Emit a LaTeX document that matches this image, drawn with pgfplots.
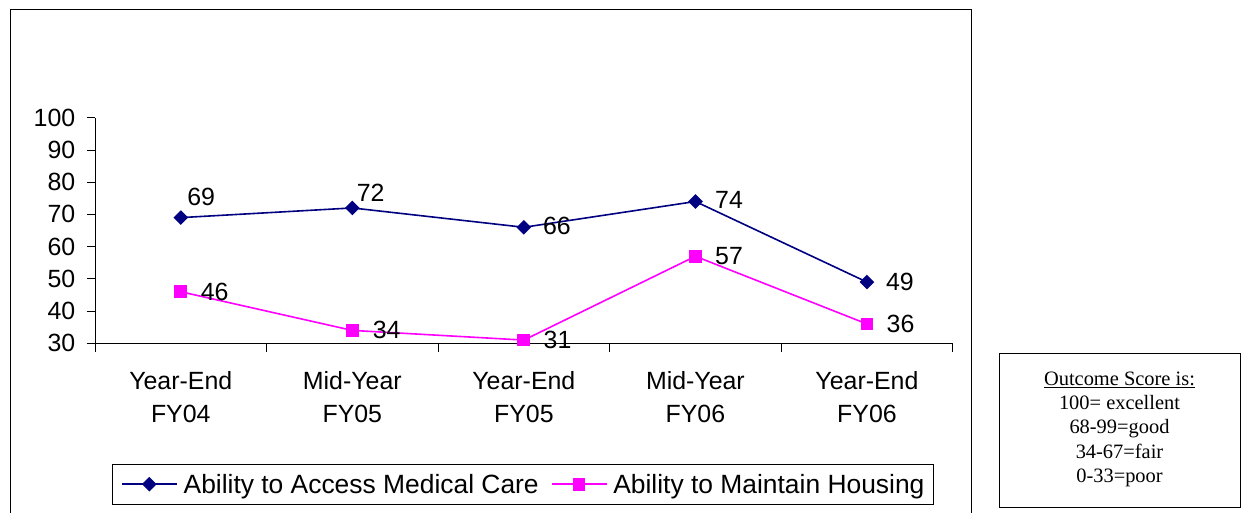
\documentclass[border=0pt]{standalone}
\usepackage{fontspec}
\setmainfont{Liberation Sans}
\newfontfamily\serifbox{Liberation Serif}
\usepackage{pgfplots}
\pgfplotsset{compat=1.18}
\definecolor{navyc}{HTML}{000080}
\definecolor{magc}{HTML}{FF00FF}

\begin{document}
\begin{tikzpicture}[x=1bp,y=1bp]
\useasboundingbox (0,0) rectangle (1245,-513);
\draw[line width=1bp] (10,-513) -- (10,-10) -- (971,-10) -- (971,-513);
\draw[line width=1bp] (999,-354) rectangle (1240,-507);
\begin{scope}[every node/.style={font=\serifbox\fontsize{20.5}{24}\selectfont, anchor=base, inner sep=0pt}]
\node at (1119.5,-385.5) {\underline{Outcome Score is:}};
\node at (1119.5,-409) {100= excellent};
\node at (1119.5,-433.3) {68-99=good};
\node at (1119.5,-458) {34-67=fair};
\node at (1119.5,-482.5) {0-33=poor};
\end{scope}
\begin{axis}[
 at={(95bp,-343.3bp)}, anchor=south west,
 scale only axis, width=857.7bp, height=225.6bp,
 xmin=0, xmax=5, ymin=30, ymax=100,
 clip=false,
 axis x line*=bottom, axis y line*=left,
 axis line style={-, line width=0.8bp, black},
 ytick={30,40,...,100},
 xtick={0.5,1.5,2.5,3.5,4.5},
 xticklabels={{Year-End\\FY04},{Mid-Year\\FY05},{Year-End\\FY05},{Mid-Year\\FY06},{Year-End\\FY06}},
 minor xtick={0,1,2,3,4,5},
 tick align=outside,
 major tick length=8.5bp, minor tick length=8.5bp,
 major x tick style={draw=none},
 tick style={line width=0.8bp, black},
 /pgf/number format/assume math mode=true,
 ticklabel style={font=\fontsize{25}{34}\selectfont, inner sep=0pt},
 xticklabel style={align=center, anchor=north, yshift=-19bp},
 yticklabel style={anchor=east, xshift=-11bp},
 legend columns=2,
 legend cell align=left,
 legend image code/.code={\draw[mark repeat=2,mark phase=2,#1] plot coordinates {(0bp,0bp) (27.5bp,0bp) (55bp,0bp)};},
 legend style={at={(0.4987,-0.6246)}, anchor=center, draw=black, line width=0.8bp,
   font=\fontsize{26.5}{30}\selectfont, inner xsep=9bp, inner ysep=10bp,
   nodes={inner sep=0pt, anchor=west},
   /tikz/every odd column/.append style={column sep=6bp},
   /tikz/every even column/.append style={column sep=12bp}},
 nodes near coords,
 visualization depends on={\thisrow{dx}\as\dx},
 visualization depends on={\thisrow{dy}\as\dy},
 nodes near coords style={text=black, anchor=west, inner sep=0pt, xshift=\dx bp, yshift=\dy bp, font=\fontsize{25}{30}\selectfont},
]
\addplot[navyc, line width=1.6bp, mark=square*, mark size=4.4bp, mark options={rotate=45, solid}] table {
x y dx dy
0.5 69 5.7 20.6
1.5 72 3.7 14.8
2.5 66 18.4 1.5
3.5 74 19 1.7
4.5 49 18.3 0
};
\addlegendentry{Ability to Access Medical Care}
\addplot[magc, line width=1.6bp, mark=square*, mark size=5.6bp, mark options={solid}] table {
x y dx dy
0.5 46 19.3 0
1.5 34 19.7 0
2.5 31 19 0
3.5 57 19 0
4.5 36 19 0
};
\addlegendentry{Ability to Maintain Housing}
\end{axis}
\end{tikzpicture}
\end{document}
